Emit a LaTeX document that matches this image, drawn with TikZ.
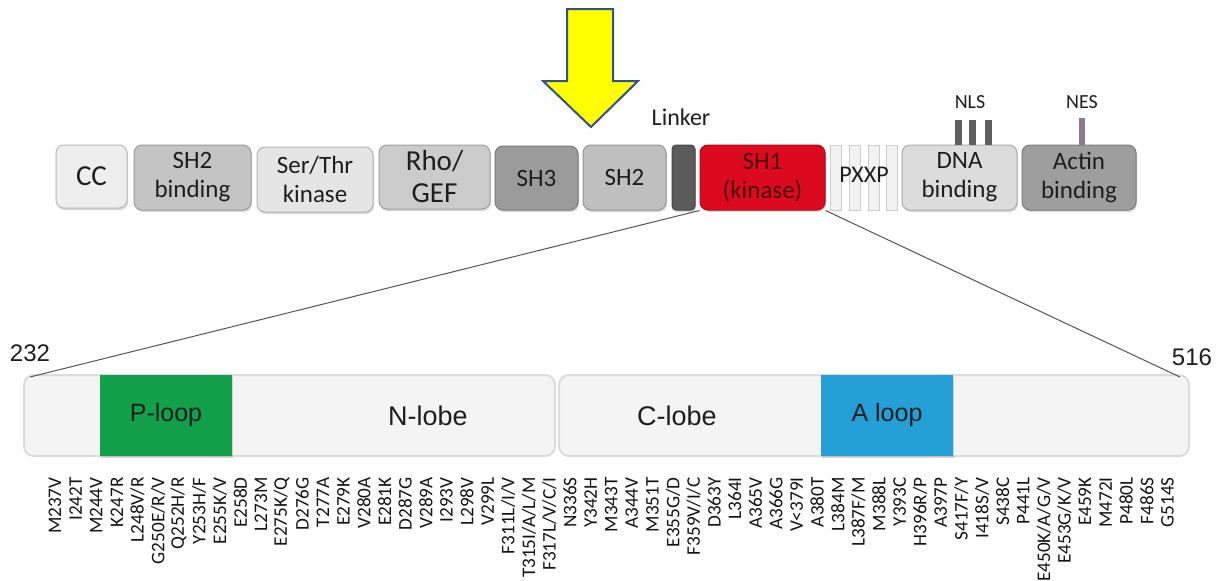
\documentclass[tikz,border=0pt]{standalone}
\usepackage{fontspec}
\setmainfont{Carlito}
\newfontfamily\arifont{Liberation Sans}
\usetikzlibrary{shadows}
\definecolor{txt}{HTML}{1E1E1E}
\definecolor{ccF}{HTML}{EEEEEE}
\definecolor{shbF}{HTML}{C4C4C4}
\definecolor{stF}{HTML}{E5E5E5}
\definecolor{rhoF}{HTML}{CBCBCB}
\definecolor{shtF}{HTML}{9B9B9B}
\definecolor{shtwoF}{HTML}{BFBFBF}
\definecolor{linkF}{HTML}{5B5B5B}
\definecolor{shoneF}{HTML}{DC0A1E}
\definecolor{shoneT}{HTML}{4A0A0A}
\definecolor{pxF}{HTML}{F2F2F2}
\definecolor{dnaF}{HTML}{DCDCDC}
\definecolor{actF}{HTML}{9E9E9E}
\definecolor{nlsF}{HTML}{5F5F5F}
\definecolor{nesF}{HTML}{8E7A8E}
\definecolor{arrF}{HTML}{FFFF00}
\definecolor{arrD}{HTML}{2F528F}
\definecolor{kF}{HTML}{F4F4F4}
\definecolor{kD}{HTML}{DCDCDC}
\definecolor{ploopF}{HTML}{12A04A}
\definecolor{aloopF}{HTML}{25A0D7}
\definecolor{lineC}{HTML}{555555}
\tikzset{
  sz/.style 2 args={minimum width=#1*0.5pt, minimum height=#2*0.5pt},
  shd/.style={drop shadow={shadow xshift=0.5pt,shadow yshift=-1pt,opacity=0.25,fill=black!60}},
  dom/.style={draw=#1!78!black, fill=#1, rounded corners=4pt, inner sep=0pt, align=center,
    text=txt, line width=0.5pt, font=\fontsize{12.5}{14.5}\selectfont, shd},
  big/.style={font=\fontsize{14.5}{16}\selectfont},
  bar/.style={draw=black!20, fill=pxF, inner sep=0pt, line width=0.4pt},
  sig/.style={draw=none, fill=#1, inner sep=0pt},
  toptxt/.style={text=txt, inner sep=0pt, font=\fontsize{10}{12}\selectfont},
  kbox/.style={draw=kD, fill=kF, line width=1pt, rounded corners=5pt, inner sep=0pt},
  loopbox/.style={draw=none, fill=#1, inner sep=0pt, text=txt, font=\arifont\fontsize{12.5}{14}\selectfont, shd},
  ktxt/.style={text=txt, inner sep=0pt, font=\arifont\fontsize{13.5}{15}\selectfont},
  num/.style={text=txt, inner sep=0pt, font=\arifont\fontsize{12}{14}\selectfont},
  mut/.style={rotate=90, anchor=east, inner sep=0pt, text=black!92, font=\fontsize{9.6}{11}\selectfont},
  conn/.style={draw=lineC, line width=0.5pt}
}
\begin{document}
\begin{tikzpicture}[x=0.5pt,y=-0.5pt]
\path[use as bounding box, fill=white] (0,0) rectangle (1217,580);

% yellow arrow
\draw[fill=arrF, draw=arrD, line width=1pt, line join=miter]
  (567,9) -- (613,9) -- (613,81) -- (638,81) -- (591,127) -- (543,81) -- (567,81) -- cycle;

% domains
\node[dom=ccF, big, sz={71}{63}] (cc) at (91.5,176.5) {CC};
\node[dom=shbF, sz={117}{65}] (shb) at (192.5,177.5) {SH2\\binding};
\node[dom=stF, sz={116}{65}] (st) at (315,179.5) {Ser/Thr\\kinase};
\node[dom=rhoF, big, sz={111}{64}] (rho) at (434.5,177) {Rho/\\GEF};
\node[dom=shtF, sz={83}{64}] (sh3) at (536.5,178) {SH3};
\node[dom=shtwoF, sz={83}{65}] (sh2) at (624.5,177.5) {SH2};
\node[dom=linkF, rounded corners=2pt, sz={23}{65}] (lnk) at (683.5,177.5) {};
\node[dom=shoneF, text=shoneT, sz={125}{65}] (sh1) at (762.5,177.5) {SH1\\(kinase)};
\node[bar, sz={11}{65}] (b1) at (835.5,177.5) {};
\node[bar, sz={11}{65}] (b2) at (854.5,177.5) {};
\node[bar, sz={11}{65}] (b3) at (873.5,177.5) {};
\node[bar, sz={11}{65}] (b4) at (891.5,177.5) {};
\node[text=txt, inner sep=0pt, font=\fontsize{12}{14}\selectfont] (pxxp) at (864,175) {PXXP};
\node[dom=dnaF, sz={115}{65}] (dna) at (959.5,177.5) {DNA\\binding};
\node[dom=actF, sz={114}{65}] (act) at (1079,177.5) {Actin\\binding};

% signal bars
\node[sig=nlsF, sz={7}{25}] (n1) at (958.5,132.5) {};
\node[sig=nlsF, sz={7}{25}] (n2) at (972.5,132.5) {};
\node[sig=nlsF, sz={7}{25}] (n3) at (988.5,132.5) {};
\node[sig=nesF, sz={6}{27}] (e1) at (1082,131.5) {};
\node[toptxt] (nls) at (970,102) {NLS};
\node[toptxt] (nes) at (1082,102) {NES};
\node[text=txt, inner sep=0pt, font=\fontsize{12}{14}\selectfont] (linker) at (681,117) {Linker};

% kinase domain
\node[kbox, sz={531}{81}] (klo) at (289.5,415.5) {};
\node[kbox, sz={630}{81}] (khi) at (874,415.5) {};
\node[loopbox=ploopF, sz={132}{81}] (ploop) at (166,415.5) {P-loop};
\node[loopbox=aloopF, sz={132}{81}] (aloop) at (887,415.5) {A loop};
\node[ktxt] (nlobe) at (428,416) {N-lobe};
\node[ktxt] (clobe) at (677,416) {C-lobe};
\node[num] (n232) at (30,353) {232};
\node[num] (n516) at (1192,357) {516};

% zoom lines
\coordinate (kl) at (30,377);
\coordinate (kr) at (1180,377);
\draw[conn] (sh1.south west) -- (kl);
\draw[conn] (sh1.south east) -- (kr);

% mutations
\foreach \t [count=\i] in {M237V,I242T,M244V,K247R,L248V/R,G250E/R/V,Q252H/R,Y253H/F,E255K/V,E258D,L273M,E275K/Q,D276G,T277A,E279K,V280A,E281K,D287G,V289A,I293V,L298V,V299L,F311L/I/V,T315I/A/L/M,F317L/V/C/I,N336S,Y342H,M343T,A344V,M351T,E355G/D,F359V/I/C,D363Y,L364I,A365V,A366G,V<379I,A380T,L384M,L387F/M,M388L,Y393C,H396R/P,A397P,S417F/Y,I418S/V,S438C,P441L,E450K/A/G/V,E453G/K/V,E459K,M472I,P480L,F486S,G514S}
  \node[mut] (m\i) at ({55+(\i-1)*20.6},477) {\t};
\end{tikzpicture}
\end{document}
